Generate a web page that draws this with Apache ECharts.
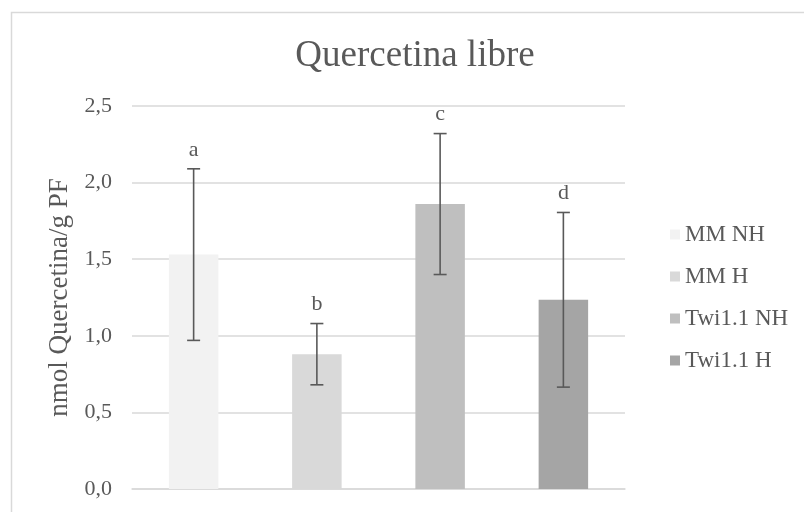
<!DOCTYPE html>
<html>
<head>
<meta charset="utf-8">
<script src="https://cdn.jsdelivr.net/npm/echarts@6/dist/echarts.min.js"></script>
<style>
  html, body { margin: 0; padding: 0; background: #ffffff; }
  #chart { width: 804px; height: 512px; }
</style>
</head>
<body>
<div id="chart"></div>
<script>
const categories = ['MM NH', 'MM H', 'Twi1.1 NH', 'Twi1.1 H'];
const means = [1.53, 0.88, 1.86, 1.235];
const errors = [0.56, 0.20, 0.46, 0.57];
const letters = ['a', 'b', 'c', 'd'];
const barColors = ['#f2f2f2', '#d9d9d9', '#bfbfbf', '#a5a5a5'];
const yTicks = { min: 0, max: 2.5, interval: 0.5 };

const FONT = '"Liberation Serif", "DejaVu Serif", serif';
const TEXT = '#595959';

const chart = echarts.init(document.getElementById('chart'), null, { renderer: 'canvas' });

const barSeries = categories.map((name, i) => ({
  name: name,
  type: 'bar',
  barWidth: 49.5,
  barGap: '-100%',
  itemStyle: { color: barColors[i] },
  data: categories.map((c, j) => (j === i ? means[i] : '-')),
  z: 2
}));

const errData = categories.map((c, i) => [i, means[i] - errors[i], means[i] + errors[i]]);

const errorSeries = {
  type: 'custom',
  name: 'err',
  z: 5,
  data: errData,
  encode: { x: 0, y: [1, 2] },
  renderItem: function (params, api) {
    const lo = api.coord([api.value(0), api.value(1)]);
    const hi = api.coord([api.value(0), api.value(2)]);
    const half = 6.5;
    const style = { stroke: '#595959', lineWidth: 1.6 };
    return {
      type: 'group',
      children: [
        { type: 'line', shape: { x1: hi[0], y1: hi[1], x2: lo[0], y2: lo[1] }, style: style },
        { type: 'line', shape: { x1: hi[0] - half, y1: hi[1], x2: hi[0] + half, y2: hi[1] }, style: style },
        { type: 'line', shape: { x1: lo[0] - half, y1: lo[1], x2: lo[0] + half, y2: lo[1] }, style: style },
        { type: 'text', x: hi[0], y: hi[1] - 19, style: {
            text: letters[params.dataIndex], fill: TEXT, font: '22px ' + FONT,
            align: 'center', verticalAlign: 'middle' } }
      ]
    };
  }
};

chart.setOption({
  animation: false,
  backgroundColor: '#ffffff',
  graphic: [{
    type: 'rect', left: 9, top: 10, z: -10,
    shape: { width: 800, height: 510 },
    style: { fill: 'none', stroke: '#d9d9d9', lineWidth: 1.5 }
  }],
  title: {
    text: 'Quercetina libre',
    left: 410, top: 33, textAlign: 'center',
    textStyle: { fontFamily: FONT, fontSize: 37, fontWeight: 'normal', color: TEXT }
  },
  legend: {
    orient: 'vertical',
    left: 665, top: 218,
    itemWidth: 10, itemHeight: 10, itemGap: 19,
    icon: 'rect',
    data: categories,
    textStyle: { fontFamily: FONT, fontSize: 23, color: TEXT }
  },
  grid: { left: 132, right: 179, top: 106, bottom: 23, containLabel: false },
  xAxis: {
    type: 'category',
    data: categories,
    axisLabel: { show: false },
    axisTick: { show: false },
    axisLine: { lineStyle: { color: '#d9d9d9', width: 1.5 } }
  },
  yAxis: {
    type: 'value',
    min: yTicks.min, max: yTicks.max, interval: yTicks.interval,
    name: 'nmol Quercetina/g PF',
    nameLocation: 'middle',
    nameGap: 58,
    nameTextStyle: { fontFamily: FONT, fontSize: 27, color: TEXT },
    axisLabel: {
      fontFamily: FONT, fontSize: 22, color: TEXT, margin: 20,
      formatter: v => v.toFixed(1).replace('.', ',')
    },
    axisLine: { show: false },
    axisTick: { show: false },
    splitLine: { lineStyle: { color: '#d9d9d9', width: 1.5 } }
  },
  series: [...barSeries, errorSeries]
});
</script>
</body>
</html>
